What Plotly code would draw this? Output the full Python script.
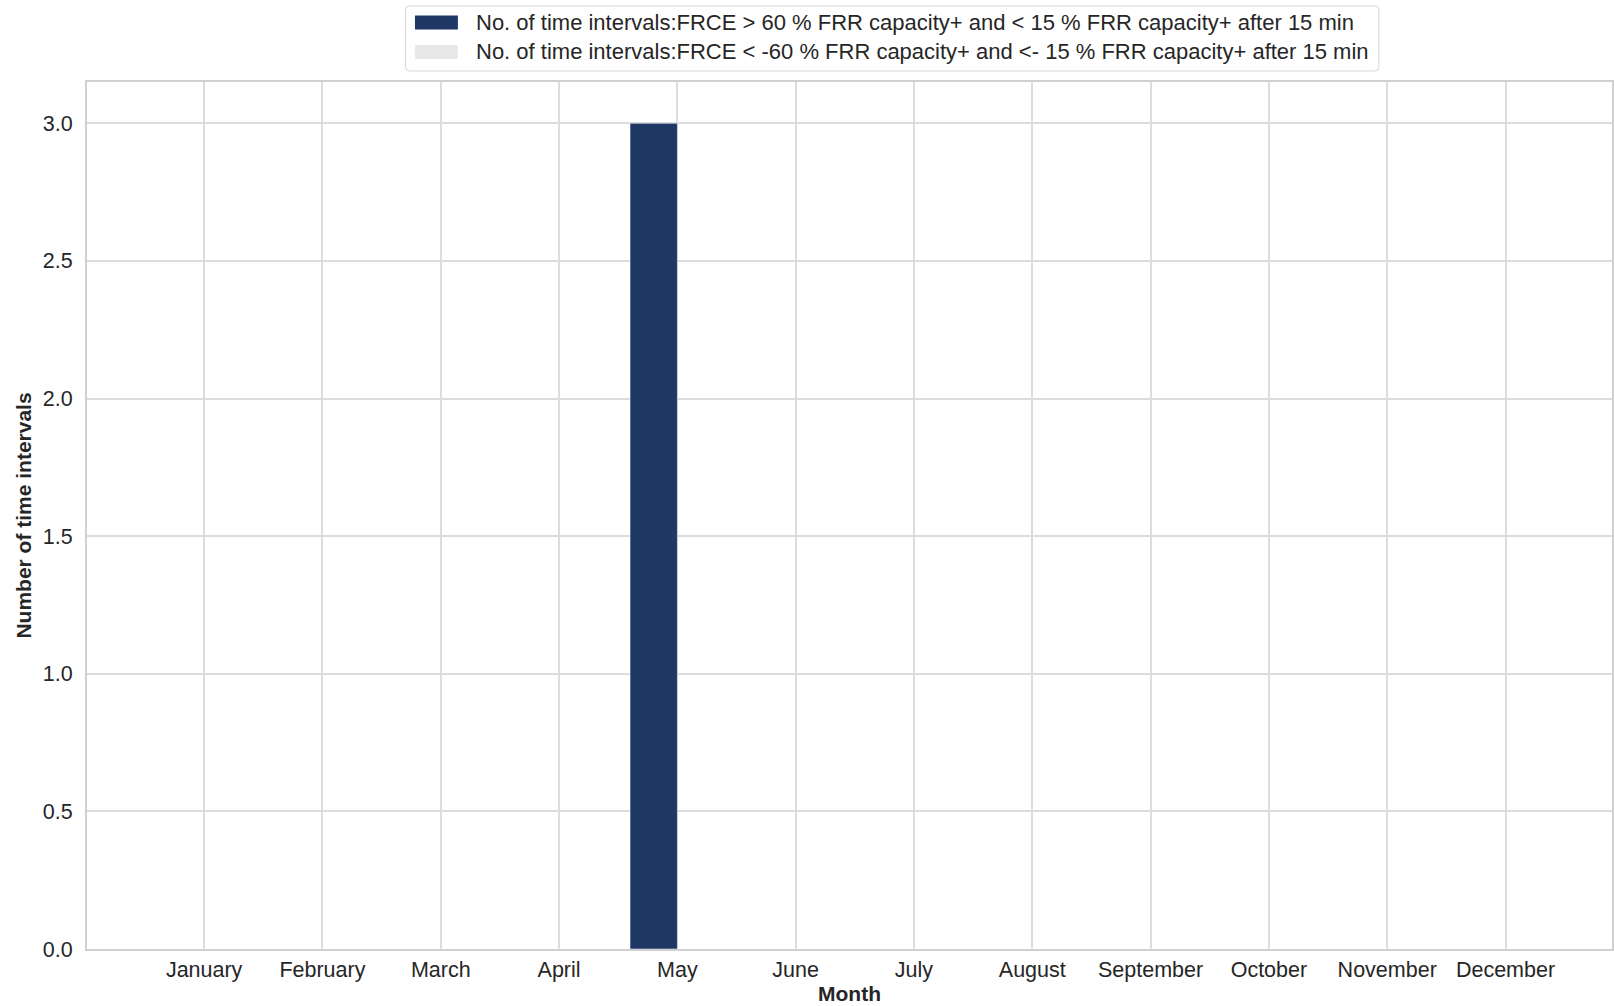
import plotly.graph_objects as go

months = ["January", "February", "March", "April", "May", "June", "July",
          "August", "September", "October", "November", "December"]
series_pos_name = "No. of time intervals:FRCE > 60 % FRR capacity+ and < 15 % FRR capacity+ after 15 min"
series_neg_name = "No. of time intervals:FRCE < -60 % FRR capacity+ and <- 15 % FRR capacity+ after 15 min"
series_pos = [0, 0, 0, 0, 3, 0, 0, 0, 0, 0, 0, 0]
series_neg = [0, 0, 0, 0, 0, 0, 0, 0, 0, 0, 0, 0]
y_ticks = [0.0, 0.5, 1.0, 1.5, 2.0, 2.5, 3.0]

color_pos = "#1e3764"
color_neg = "#e8e8e8"
text_color = "#262626"
grid_color = "#dcdcdc"

W, H = 1614, 1006
ML, MR, MT, MB = 86.5, 0, 82, 57
PW, PH = W - ML - MR, H - MT - MB


def px_x(px):
    return (px - ML) / PW


def px_y(py):
    return (H - MB - py) / PH


x_idx = list(range(len(months)))

fig = go.Figure()
fig.add_trace(go.Bar(x=x_idx, y=series_pos, name=series_pos_name,
                     marker=dict(color=color_pos, line=dict(color="#ffffff", width=0.5)),
                     width=0.4, offset=-0.4, showlegend=False))
fig.add_trace(go.Bar(x=x_idx, y=series_neg, name=series_neg_name,
                     marker=dict(color=color_neg, line=dict(color="#ffffff", width=0.5)),
                     width=0.4, offset=0.0, showlegend=False))

# Custom legend (matplotlib-style wide patches)
shapes = []
bx0, bx1, by0, by1, r = 405.5, 1380.5, 6, 71, 4
xr, yr = r / PW, r / PH
X0, X1, Y0, Y1 = px_x(bx0), px_x(bx1), px_y(by0), px_y(by1)
path = (f"M {X0 + xr},{Y0} L {X1 - xr},{Y0} Q {X1},{Y0} {X1},{Y0 - yr} "
        f"L {X1},{Y1 + yr} Q {X1},{Y1} {X1 - xr},{Y1} L {X0 + xr},{Y1} "
        f"Q {X0},{Y1} {X0},{Y1 + yr} L {X0},{Y0 - yr} Q {X0},{Y0} {X0 + xr},{Y0} Z")
shapes.append(dict(type="path", xref="paper", yref="paper", path=path,
                   fillcolor="rgba(255,255,255,0.9)", line=dict(color="#d6d6d6", width=1)))
annotations = []
for row_center, col, name in [(22.5, color_pos, series_pos_name), (52.0, color_neg, series_neg_name)]:
    shapes.append(dict(type="rect", xref="paper", yref="paper",
                       x0=px_x(415), x1=px_x(458), y0=px_y(row_center - 7), y1=px_y(row_center + 7),
                       fillcolor=col, line=dict(width=0)))
    annotations.append(dict(text=name, xref="paper", yref="paper", x=px_x(474.5), y=px_y(row_center),
                            xanchor="left", yanchor="middle", showarrow=False,
                            font=dict(size=22, color=text_color)))

font_family = "Liberation Sans, Arial, sans-serif"
fig.update_layout(
    width=W, height=H,
    margin=dict(l=ML, r=MR, t=MT, b=MB, pad=0),
    paper_bgcolor="white", plot_bgcolor="white",
    font=dict(family=font_family, size=21, color=text_color),
    barmode="overlay",
    showlegend=False,
    shapes=shapes,
    annotations=annotations,
)
fig.update_xaxes(
    range=[-0.99, 11.9], tickmode="array", tickvals=x_idx, ticktext=months,
    showgrid=True, gridcolor=grid_color, gridwidth=1.5,
    showline=True, linecolor="#d0d0d0", linewidth=2, mirror=True,
    ticks="", tickfont=dict(size=21.5, color=text_color),
    title=dict(text="<b>Month</b>", font=dict(size=21, color=text_color), standoff=0),
    zeroline=False,
)
fig.update_yaxes(
    range=[0, 3.15], tickmode="array", tickvals=y_ticks,
    ticktext=[f"{v:.1f}" for v in y_ticks],
    showgrid=True, gridcolor=grid_color, gridwidth=1.5,
    showline=True, linecolor="#d0d0d0", linewidth=2, mirror=True,
    ticks="", tickfont=dict(size=21.5, color=text_color), ticklabelstandoff=8,
    title=dict(text="<b>Number of time intervals</b>", font=dict(size=21, color=text_color), standoff=5),
    zeroline=False,
)

fig.write_html("out.html",
               config={"displayModeBar": False},
               post_script="document.body.style.margin='0';document.body.style.overflow='hidden';")
